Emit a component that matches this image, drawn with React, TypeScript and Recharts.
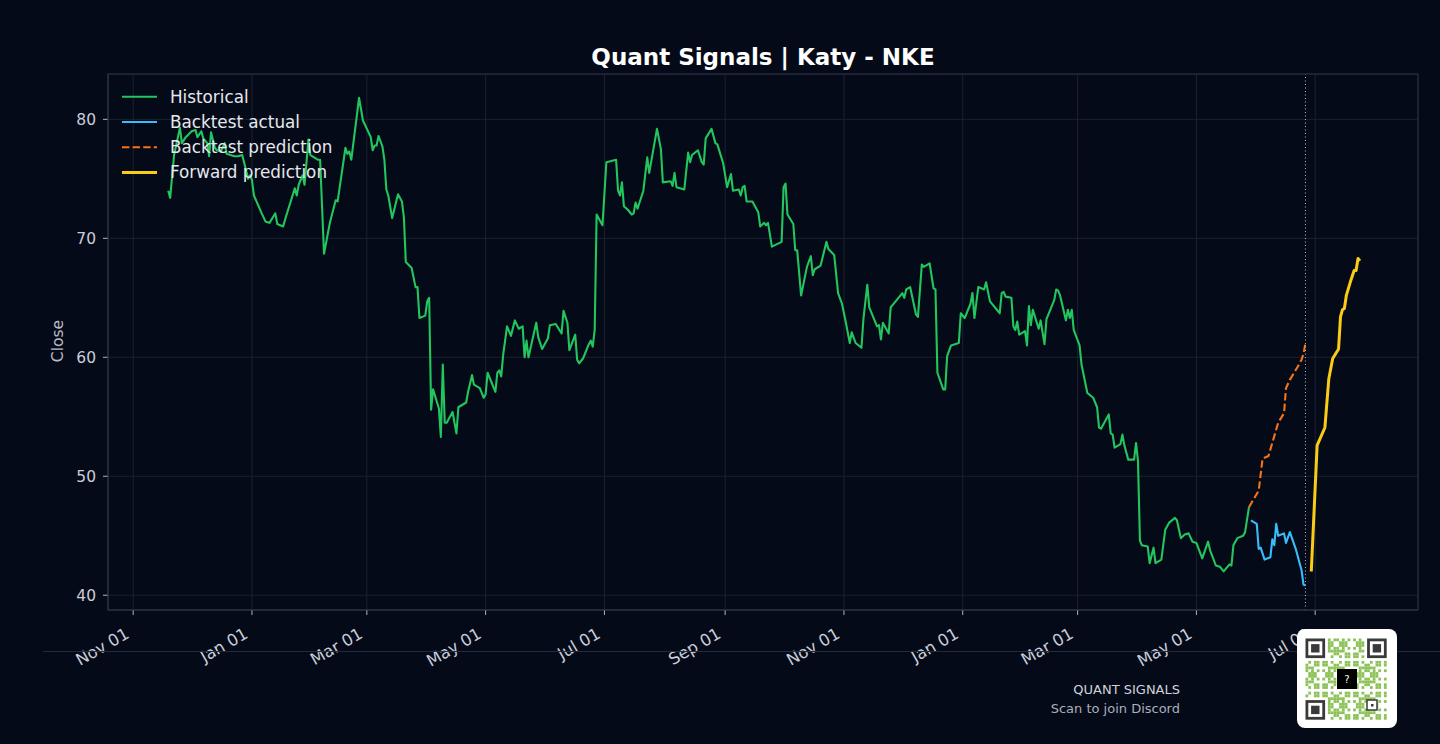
import { LineChart, Line, XAxis, YAxis, CartesianGrid, ReferenceLine } from "recharts";

// x values are calendar days counted from BASE_DATE
const BASE_DATE = "2024-11-01";

const histDay = [
  18, 19, 21, 24, 25, 27, 30, 32, 33, 35, 36, 38, 39, 40, 42, 43, 45, 47, 48, 52,
  54, 56, 58, 59, 60, 61, 62, 66, 68, 70, 73, 74, 77, 79, 83, 84, 85, 87, 88, 90,
  91, 95, 96, 98, 101, 104, 105, 109, 110, 111, 112, 116, 118, 122, 123, 124, 125, 126, 128, 129,
  130, 131, 133, 136, 138, 139, 140, 143, 145, 146, 147, 150, 151, 152, 153, 154, 157, 158, 159, 160,
  161, 164, 166, 167, 171, 172, 174, 175, 178, 180, 181, 182, 186, 187, 188, 189, 190, 192, 194, 196,
  198, 200, 201, 202, 203, 207, 208, 210, 213, 214, 217, 220, 221, 223, 224, 227, 228, 229, 231, 234,
  235, 236, 237, 238, 241, 243, 248, 249, 250, 251, 252, 254, 256, 257, 258, 259, 262, 264, 265, 269,
  271, 272, 276, 277, 278, 279, 283, 285, 286, 287, 290, 292, 293, 294, 297, 299, 300, 303, 305, 307,
  308, 311, 312, 313, 314, 315, 318, 321, 322, 324, 325, 326, 328, 333, 334, 335, 336, 339, 340, 341,
  343, 346, 348, 349, 350, 353, 356, 357, 360, 362, 364, 366, 368, 369, 371, 374, 375, 377, 378, 382,
  383, 384, 385, 388, 389, 391, 395, 396, 397, 399, 402, 403, 405, 406, 409, 411, 412, 413, 416, 417,
  418, 420, 424, 425, 427, 430, 431, 432, 434, 437, 438, 440, 445, 446, 447, 448, 451, 452, 453, 454,
  455, 458, 459, 460, 461, 462, 465, 466, 468, 469, 473, 474, 475, 476, 479, 480, 481, 482, 483, 486,
  487, 490, 493, 495, 496, 497, 501, 502, 503, 504, 507, 508, 509, 511, 514, 515, 516, 517, 518, 521,
  522, 524, 525, 528, 530, 532, 535, 536, 538, 540, 542, 544, 546, 549, 552, 553, 556, 558, 560, 563,
  564, 565, 567, 570, 571, 573,
];
const histClose = [
  74.0, 73.4, 77.0, 79.3, 78.0, 78.5, 79.0, 79.1, 78.5, 79.0, 78.4, 78.0, 76.9, 78.9, 77.6, 77.4, 77.3, 78.0, 77.1, 76.9,
  76.9, 77.0, 75.7, 75.0, 75.3, 74.9, 73.6, 72.1, 71.4, 71.3, 72.1, 71.2, 71.0, 72.1, 74.2, 73.6, 74.5, 75.3, 74.5, 78.3,
  77.0, 76.6, 76.6, 68.7, 71.3, 73.2, 73.1, 77.6, 77.1, 77.3, 76.6, 81.8, 79.9, 78.5, 77.4, 77.8, 77.8, 78.6, 77.7, 76.6,
  74.1, 73.6, 71.7, 73.7, 73.1, 71.8, 68.0, 67.5, 65.9, 65.9, 63.3, 63.5, 64.7, 65.0, 55.6, 57.3, 55.7, 53.3, 59.4, 54.5,
  54.5, 55.4, 53.6, 55.8, 56.2, 57.1, 58.5, 57.7, 57.4, 56.6, 56.9, 58.7, 57.1, 58.7, 58.9, 58.4, 60.2, 62.6, 61.8, 63.1,
  62.4, 62.6, 60.0, 61.4, 60.0, 62.9, 61.7, 60.7, 61.6, 62.7, 62.8, 62.0, 63.9, 62.9, 60.6, 61.9, 59.8, 59.5, 59.9, 61.1,
  61.4, 60.9, 62.3, 72.0, 71.1, 76.4, 76.6, 74.0, 73.6, 74.7, 72.7, 72.4, 72.0, 72.1, 73.0, 72.5, 74.0, 76.8, 75.5, 79.2,
  77.5, 74.7, 74.8, 74.4, 75.5, 74.3, 74.1, 77.2, 76.4, 77.0, 77.4, 76.4, 76.2, 78.4, 79.2, 78.0, 77.9, 76.3, 74.3, 75.4,
  74.0, 74.1, 73.6, 74.3, 74.4, 73.1, 73.1, 72.2, 71.0, 71.3, 71.1, 71.3, 69.3, 69.7, 74.3, 74.6, 72.0, 71.2, 69.0, 69.0,
  65.2, 67.6, 68.5, 66.9, 67.4, 67.7, 69.7, 69.1, 68.6, 65.4, 64.5, 62.9, 61.2, 62.1, 61.2, 60.8, 63.2, 66.1, 64.2, 62.6,
  62.7, 61.5, 62.9, 62.0, 64.2, 64.6, 65.4, 65.0, 65.7, 65.9, 63.6, 63.4, 67.8, 67.6, 67.9, 65.8, 65.7, 58.7, 57.3, 57.3,
  60.1, 61.0, 61.2, 63.7, 63.3, 64.5, 65.4, 63.3, 65.9, 65.7, 66.3, 64.7, 63.7, 65.4, 65.5, 65.1, 65.0, 62.6, 62.3, 63.0,
  61.9, 62.2, 61.0, 64.3, 62.7, 64.0, 62.4, 63.1, 61.1, 63.2, 64.8, 65.7, 65.6, 65.2, 63.1, 64.0, 63.3, 64.0, 62.3, 61.0,
  59.4, 57.0, 56.6, 55.8, 54.1, 54.0, 55.2, 53.6, 53.5, 52.4, 52.7, 53.5, 52.6, 51.4, 51.4, 52.8, 51.3, 44.6, 44.2, 44.1,
  42.7, 44.0, 42.7, 43.0, 45.5, 46.1, 46.5, 46.3, 44.8, 45.1, 45.2, 44.5, 44.4, 43.1, 44.5, 43.8, 42.5, 42.4, 42.0, 42.6,
  42.5, 44.2, 44.8, 45.0, 45.3, 47.4,
];

const backtestDay = [574, 577, 578, 579, 581, 584, 585, 586, 587, 588, 591, 592, 594, 597, 600, 601, 602];
const backtestActual = [46.3, 46.0, 43.9, 44.0, 43.0, 43.2, 44.7, 44.2, 46.0, 45.0, 45.2, 44.4, 45.3, 43.9, 42.1, 40.9, 40.8];

const predDay = [573, 578, 580, 583, 588, 591, 592, 594, 598, 600, 601, 602];
const backtestPred = [47.4, 48.8, 51.5, 51.7, 54.5, 55.3, 57.4, 58.1, 59.2, 59.8, 60.3, 61.2];

const forwardDay = [605, 608, 612, 614, 616, 619, 620, 621, 622, 623, 625, 627, 628, 629, 630];
const forwardPred = [42.0, 52.6, 54.1, 58.2, 59.9, 60.7, 63.4, 64.0, 64.1, 65.2, 66.3, 67.3, 67.3, 68.3, 68.1];

const tickDates = [
  "2024-11-01", "2025-01-01", "2025-03-01", "2025-05-01", "2025-07-01", "2025-09-01",
  "2025-11-01", "2026-01-01", "2026-03-01", "2026-05-01", "2026-07-01",
];
const tickLabels = [
  "Nov 01", "Jan 01", "Mar 01", "May 01", "Jul 01", "Sep 01",
  "Nov 01", "Jan 01", "Mar 01", "May 01", "Jul 01",
];
const yTicks = [40, 50, 60, 70, 80];

const dayOf = (s: string) => Math.round((Date.parse(s) - Date.parse(BASE_DATE)) / 86400000);
const tickDays = tickDates.map(dayOf);
const rows = (days: number[], vals: number[]) => days.map((d, i) => ({ d, v: vals[i] }));

const SERIES = [
  { name: "Historical", data: rows(histDay, histClose), color: "#22c55e", width: 2.1, dash: undefined },
  { name: "Backtest actual", data: rows(backtestDay, backtestActual), color: "#38bdf8", width: 2.1, dash: undefined },
  { name: "Backtest prediction", data: rows(predDay, backtestPred), color: "#f97316", width: 2.1, dash: "7.4 3.2" },
  { name: "Forward prediction", data: rows(forwardDay, forwardPred), color: "#facc15", width: 3, dash: undefined },
];

const BG = "#050a18";
const GRID = "#1b2131";
const SPINE = "#2a3142";
const TEXT = "#c9ced8";
const FONT = "DejaVu Sans, sans-serif";

// plot box in page pixels
const PLOT = { left: 108, top: 74, right: 1418, bottom: 610 };
const X_DOMAIN = [-12.93, 659.8];
const Y_DOMAIN = [38.76, 83.81];

function XTick(props: any) {
  const { x, y, payload } = props;
  const label = tickLabels[tickDays.indexOf(payload.value)];
  const ax = x - 3;
  const ay = y + 22;
  return (
    <text
      x={ax}
      y={ay}
      transform={`rotate(-30 ${ax} ${ay})`}
      textAnchor="end"
      fill={TEXT}
      fontSize={16.4}
      fontFamily={FONT}
    >
      {label}
    </text>
  );
}

function QrBadge() {
  const n = 29;
  const s = 2.8;
  const ox = 1305.5;
  const oy = 638.5;
  const inFinder = (i: number, j: number) =>
    (i < 8 && j < 8) || (i < 8 && j >= n - 8) || (i >= n - 8 && j < 8);
  const inLogo = (i: number, j: number) => i >= 11 && i <= 17 && j >= 11 && j <= 17;
  const cells = [];
  for (let i = 0; i < n; i++) {
    for (let j = 0; j < n; j++) {
      if (inFinder(i, j) || inLogo(i, j)) continue;
      if ((i * 31 + j * 17 + i * j * 7) % 11 < 6) {
        cells.push(<rect key={`${i}-${j}`} x={ox + j * s} y={oy + i * s} width={s} height={s} fill="#8cc257" />);
      }
    }
  }
  const finder = (i: number, j: number) => (
    <g key={`f${i}-${j}`}>
      <rect x={ox + j * s} y={oy + i * s} width={7 * s} height={7 * s} fill="#3a3a3a" />
      <rect x={ox + (j + 1) * s} y={oy + (i + 1) * s} width={5 * s} height={5 * s} fill="#fff" />
      <rect x={ox + (j + 2) * s} y={oy + (i + 2) * s} width={3 * s} height={3 * s} fill="#3a3a3a" />
    </g>
  );
  return (
    <g>
      <rect x={1297} y={629} width={100} height={99} rx={8} fill="#ffffff" />
      {cells}
      {finder(0, 0)}
      {finder(0, n - 7)}
      {finder(n - 7, 0)}
      <rect x={1337} y={669} width={20} height={20} fill="#000" />
      <text x={1347} y={683} textAnchor="middle" fill="#fff" fontSize={10} fontFamily={FONT}>
        ?
      </text>
      <rect x={1367} y={700} width={10} height={10} fill="#fff" stroke="#3a3a3a" strokeWidth={1.5} />
      <rect x={1371} y={704} width={2.5} height={2.5} fill="#3a3a3a" />
    </g>
  );
}

export default function App() {
  const cutoff = backtestDay[backtestDay.length - 1];
  return (
    <div style={{ position: "relative", width: 1440, height: 744, background: BG, fontFamily: FONT }}>
      <style>{`body{margin:0;background:${BG};}`}</style>
      <LineChart
        width={1440}
        height={744}
        margin={{ top: PLOT.top, right: 1440 - PLOT.right, bottom: 104, left: 48 }}
      >
        <CartesianGrid stroke={GRID} strokeWidth={1} />
        <XAxis
          type="number"
          dataKey="d"
          domain={X_DOMAIN}
          ticks={tickDays}
          allowDataOverflow
          height={30}
          tickSize={5}
          tickMargin={0}
          tick={<XTick />}
          tickLine={{ stroke: "#aeb4bf" }}
          axisLine={{ stroke: SPINE }}
          interval={0}
        />
        <YAxis
          type="number"
          domain={Y_DOMAIN}
          ticks={yTicks}
          allowDataOverflow
          width={60}
          tickSize={5}
          tickMargin={7}
          tick={{ fill: TEXT, fontSize: 15.5, fontFamily: FONT }}
          tickLine={{ stroke: "#aeb4bf" }}
          axisLine={{ stroke: SPINE }}
          interval={0}
        />
        {SERIES.map((s) => (
          <Line
            key={s.name}
            data={s.data}
            dataKey="v"
            name={s.name}
            type="linear"
            stroke={s.color}
            strokeWidth={s.width}
            strokeDasharray={s.dash}
            strokeLinejoin="round"
            dot={false}
            activeDot={false}
            isAnimationActive={false}
          />
        ))}
        <ReferenceLine x={cutoff} stroke="#b9bfca" strokeWidth={1} strokeDasharray="1 2.5" />
      </LineChart>

      <svg
        width={1440}
        height={744}
        style={{ position: "absolute", left: 0, top: 0, pointerEvents: "none" }}
        fontFamily={FONT}
      >
        <rect
          x={PLOT.left}
          y={PLOT.top}
          width={PLOT.right - PLOT.left}
          height={PLOT.bottom - PLOT.top}
          fill="none"
          stroke={SPINE}
        />
        <text x={763} y={64.5} textAnchor="middle" fill="#ffffff" fontSize={23} fontWeight="bold">
          Quant Signals | Katy - NKE
        </text>
        <text
          x={63}
          y={341}
          transform="rotate(-90 63 341)"
          textAnchor="middle"
          fill="#b7bcc6"
          fontSize={15.5}
        >
          Close
        </text>

        {SERIES.map((s, i) => {
          const cy = 96.7 + i * 25.3;
          return (
            <g key={s.name}>
              <line
                x1={122}
                x2={157}
                y1={cy}
                y2={cy}
                stroke={s.color}
                strokeWidth={s.width}
                strokeDasharray={s.dash}
              />
              <text x={170} y={cy + 5.8} fill="#e6e8ec" fontSize={16.8}>
                {s.name}
              </text>
            </g>
          );
        })}

        <line x1={43} x2={1440} y1={651.5} y2={651.5} stroke="#232a3a" strokeWidth={1} />
        <text x={1180} y={694} textAnchor="end" fill="#d0d4dc" fontSize={13}>
          QUANT SIGNALS
        </text>
        <text x={1180} y={712.5} textAnchor="end" fill="#a9afba" fontSize={13}>
          Scan to join Discord
        </text>
        <QrBadge />
      </svg>
    </div>
  );
}
